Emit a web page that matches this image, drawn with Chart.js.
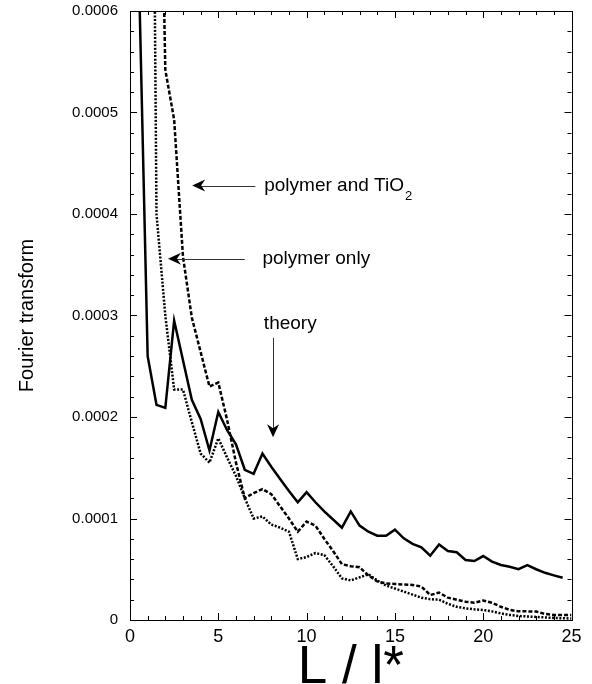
<!DOCTYPE html>
<html><head><meta charset="utf-8">
<script src="https://cdn.jsdelivr.net/npm/chart.js@4.4.1/dist/chart.umd.min.js"></script>
<style>html,body{margin:0;padding:0;background:#fff}#wrap{width:592px;height:684px;position:relative}</style>
</head><body><div id="wrap"><canvas id="c"></canvas></div>
<script>
// ---- data ----
const xValues = [0.5,1,1.5,2,2.5,3,3.5,4,4.5,5,5.5,6,6.5,7,7.5,8,8.5,9,9.5,10,10.5,11,11.5,12,12.5,13,13.5,14,14.5,15,15.5,16,16.5,17,17.5,18,18.5,19,19.5,20,20.5,21,21.5,22,22.5,23,23.5,24,24.5,25];
const theory = [0.00064,0.00026,0.000212,0.000209,0.000295,0.000256,0.000217,0.000198,0.000167,0.000205,0.000187,0.000173,0.000148,0.000144,0.000164,0.000151,0.000139,0.000127,0.000116,0.000126,0.000116,0.000107,0.000099,0.000091,0.000107,0.000093,0.000087,0.000083,0.000083,0.000089,0.0000805,0.000075,0.0000716,0.0000634,0.0000745,0.000068,0.0000667,0.0000591,0.0000581,0.000063,0.0000575,0.0000542,0.0000525,0.00005,0.000054,0.00005,0.0000465,0.000044,0.0000417,null];
const polymerOnly = [null,0.0015,0.0004,0.0003,0.000227,0.000227,0.000195,0.000164,0.000155,0.000179,0.00016,0.000142,0.00012,0.0001,0.000102,0.000094,0.000091,0.000087,0.00006,0.000062,0.000066,0.000064,0.000053,0.000041,0.000039,0.000042,0.000045,0.000039,0.000034,0.000031,0.000028,0.000025,0.000022,0.0000205,0.00002,0.000016,0.000013,0.0000115,0.0000105,0.0000099,0.0000085,0.0000065,0.000005,0.000004,0.0000035,0.000003,0.0000025,0.000002,0.0000017,0.0000015];
const polymerTiO2 = [null,null,0.001,0.000542,0.000493,0.000358,0.000298,0.000264,0.00023,0.000234,0.000197,0.000155,0.00012,0.000125,0.000129,0.000124,0.000112,0.0001,0.000087,0.000097,0.000093,0.00008,0.000068,0.000055,0.000053,0.000052,0.000044,0.000038,0.000036,0.0000355,0.000035,0.0000345,0.000033,0.0000246,0.000027,0.000022,0.00002,0.000018,0.000017,0.0000192,0.000017,0.000013,0.00001,0.0000085,0.0000085,0.0000083,0.000006,0.000005,0.000005,0.000005];
const xTickLabels = [0,5,10,15,20,25];
const yTickLabels = [0,0.0001,0.0002,0.0003,0.0004,0.0005,0.0006];
const xMinorStep = 1;
const yMinorStep = 0.00002;
// annotations in data units
const notes = [
  {text:'polymer and TiO', sub:'2', tip:[3.52,0.000428], tail:[7.1,0.000428], label:[7.6,0.000428], dir:'left'},
  {text:'polymer only', tip:[2.15,0.000356], tail:[6.5,0.000356], label:[7.5,0.000356], dir:'left'},
  {text:'theory', tip:[8.1,0.00018], tail:[8.1,0.000278], label:[7.58,0.000292], dir:'down'}
];

const FONT = '"Liberation Sans", Arial, Helvetica, sans-serif';
const pts = arr => xValues.map((x,i)=>({x:x, y:arr[i]}));

function head(ctx, tx, ty, ang){
  const len=13, half=6, notch=4;
  ctx.save(); ctx.translate(tx,ty); ctx.rotate(ang);
  ctx.beginPath(); ctx.moveTo(0,0); ctx.lineTo(-len,-half); ctx.lineTo(-len+notch,0); ctx.lineTo(-len,half); ctx.closePath();
  ctx.fillStyle='#000'; ctx.fill(); ctx.restore();
}

const framePlugin = {
  id:'frameTicks',
  afterDatasetsDraw(chart){
    const ctx = chart.ctx, a = chart.chartArea, xs = chart.scales.x, ys = chart.scales.y;
    ctx.save();
    ctx.strokeStyle='#000'; ctx.lineWidth=1;
    ctx.strokeRect(Math.round(a.left)+0.5, Math.round(a.top)+0.5, Math.round(a.right-a.left), Math.round(a.bottom-a.top));
    ctx.beginPath();
    for(let v=xs.min; v<=xs.max+1e-9; v+=xMinorStep){
      const major = xTickLabels.some(t=>Math.abs(t-v)<1e-9);
      const L = major?7:4, p = Math.round(xs.getPixelForValue(v))+0.5;
      ctx.moveTo(p,a.bottom); ctx.lineTo(p,a.bottom-L);
      ctx.moveTo(p,a.top); ctx.lineTo(p,a.top+L);
    }
    for(let k=0; k<=Math.round((ys.max-ys.min)/yMinorStep); k++){
      const v = ys.min + k*yMinorStep;
      const major = yTickLabels.some(t=>Math.abs(t-v)<1e-12);
      const L = major?7:4, p = Math.round(ys.getPixelForValue(v))+0.5;
      ctx.moveTo(a.left,p); ctx.lineTo(a.left+L,p);
      ctx.moveTo(a.right,p); ctx.lineTo(a.right-L,p);
    }
    ctx.stroke();
    // annotations
    notes.forEach(n=>{
      const tx=xs.getPixelForValue(n.tip[0]), ty=ys.getPixelForValue(n.tip[1]);
      const ex=xs.getPixelForValue(n.tail[0]), ey=ys.getPixelForValue(n.tail[1]);
      ctx.strokeStyle='#333'; ctx.lineWidth=1;
      ctx.beginPath();
      if(n.dir==='left'){ ctx.moveTo(tx+8,Math.round(ty)+0.5); ctx.lineTo(ex,Math.round(ey)+0.5); }
      else { ctx.moveTo(Math.round(tx)+0.5,ey); ctx.lineTo(Math.round(tx)+0.5,ty-8); }
      ctx.stroke();
      head(ctx, tx, ty, n.dir==='left'?Math.PI:Math.PI/2);
      const lx=xs.getPixelForValue(n.label[0]), ly=ys.getPixelForValue(n.label[1]);
      ctx.fillStyle='#000'; ctx.font='19px '+FONT; ctx.textAlign='left'; ctx.textBaseline='middle';
      ctx.fillText(n.text, lx, ly);
      if(n.sub){
        const w = ctx.measureText(n.text).width;
        ctx.font='13px '+FONT; ctx.fillText(n.sub, lx+w+1, ly+11);
      }
    });
    ctx.restore();
  }
};

new Chart(document.getElementById('c'), {
  type:'line',
  data:{ datasets:[
    {label:'theory', data:pts(theory), borderColor:'#000', borderWidth:2.5, pointRadius:0, fill:false, tension:0, borderJoinStyle:'miter'},
    {label:'polymer only', data:pts(polymerOnly), borderColor:'#000', borderWidth:2.5, borderDash:[2,1.6], pointRadius:0, fill:false, tension:0},
    {label:'polymer and TiO2', data:pts(polymerTiO2), borderColor:'#000', borderWidth:2.5, borderDash:[4,2], pointRadius:0, fill:false, tension:0}
  ]},
  options:{
    responsive:true, maintainAspectRatio:false, animation:false,
    layout:{padding:{left:0,right:20.5,top:11,bottom:0}},
    plugins:{legend:{display:false}, tooltip:{enabled:false}},
    scales:{
      x:{type:'linear', min:0, max:25,
        afterBuildTicks:s=>{s.ticks = xTickLabels.map(v=>({value:v}));},
        afterFit:s=>{s.height=64; s.paddingLeft=0; s.paddingRight=0;},
        grid:{display:false, drawTicks:false}, border:{display:false},
        ticks:{font:{family:FONT,size:18}, color:'#000', padding:6, maxRotation:0, autoSkip:false},
        title:{display:true, text:'L / l*', color:'#000', font:{family:FONT,size:53,lineHeight:0.6}, padding:{top:0,bottom:0}}
      },
      y:{min:0, max:0.0006,
        afterBuildTicks:s=>{s.ticks = yTickLabels.map(v=>({value:v}));},
        afterFit:s=>{s.width=130; s.paddingTop=0; s.paddingBottom=0;},
        grid:{display:false, drawTicks:false}, border:{display:false},
        ticks:{font:{family:FONT,size:15}, color:'#000', padding:12, autoSkip:false,
          callback:v=> v===0 ? '0' : v.toFixed(4)},
        title:{display:true, text:'Fourier transform', color:'#000', font:{family:FONT,size:20,lineHeight:1.2}, padding:{top:15,bottom:0}}
      }
    }
  },
  plugins:[framePlugin]
});
</script></body></html>
